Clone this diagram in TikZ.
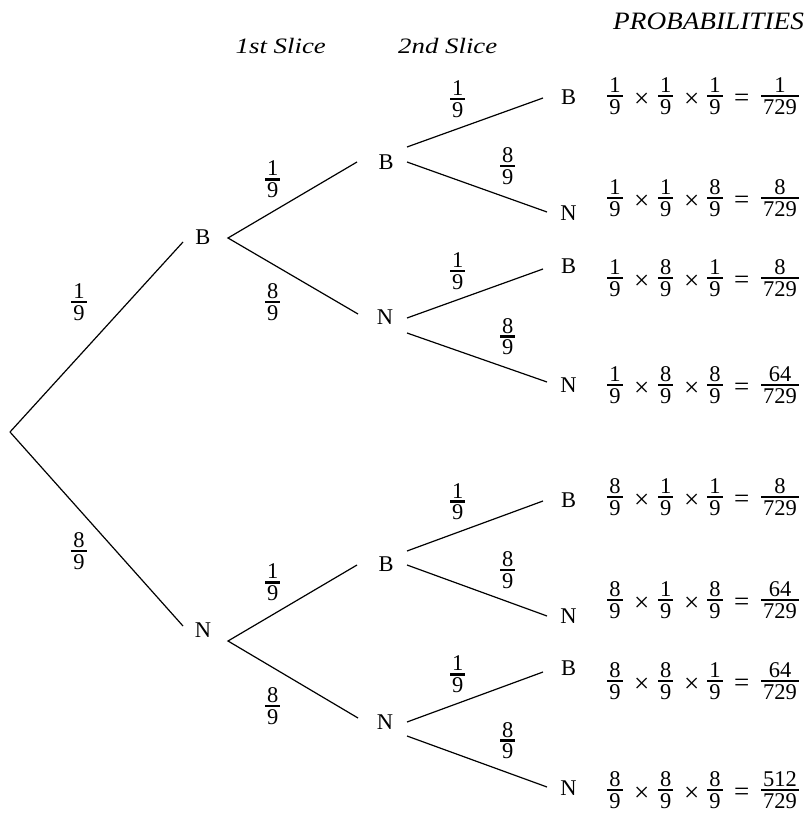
\documentclass[tikz,border=0pt]{standalone}
\usepackage{fontspec}
\setmainfont{Liberation Serif}
\newfontfamily\slicefont{Liberation Serif}[FakeStretch=1.22]
\newfontfamily\probfont{Liberation Serif}[FakeStretch=1.09]
\newcommand{\fr}[2]{\vbox{\offinterlineskip\halign{\kern2pt\hfil##\hfil\kern2pt\cr
  \vrule height14.9pt depth0pt width0pt\relax#1\cr
  \noalign{\kern2pt\hrule height2.7pt\kern2pt}
  \vrule height14.9pt depth0pt width0pt\relax#2\cr}}}
\tikzset{
  letter/.style={inner sep=0pt},
  frn/.style={inner sep=0pt},
  op/.style={inner sep=0pt, font=\fontsize{27}{30}\selectfont},
  branch/.style={line width=1.2pt, black},
  slicelabel/.style={inner sep=0pt, anchor=base west, font=\fontsize{22}{26}\slicefont\itshape},
}
\begin{document}
\begin{tikzpicture}[x=1pt, y=-1pt, font=\fontsize{22.5}{26}\selectfont]
\useasboundingbox (0,0) rectangle (805,818);
% headings
\node[slicelabel] (h1) at (235.5,54) {1st Slice};
\node[slicelabel] (h2) at (398,54) {2nd Slice};
\node[slicelabel, font=\fontsize{25}{28}\probfont\itshape] (h3) at (613,30) {PROBABILITIES};
% tree nodes
\coordinate (root) at (10,432);
\node[letter] (B1) at (203,237) {B};
\node[letter] (N1) at (203,630) {N};
\node[letter] (B2a) at (386,162) {B};
\node[letter] (N2a) at (385,317) {N};
\node[letter] (B2b) at (386,564) {B};
\node[letter] (N2b) at (385,722) {N};
\node[letter] (B3a) at (568.5,97) {B};
\node[letter] (N3a) at (568.5,213) {N};
\node[letter] (B3b) at (568.5,266) {B};
\node[letter] (N3b) at (568.5,385) {N};
\node[letter] (B3c) at (568.5,500) {B};
\node[letter] (N3c) at (568.5,616) {N};
\node[letter] (B3d) at (568.5,668) {B};
\node[letter] (N3d) at (568.5,788) {N};
% branches
\draw[branch] (root) -- ([shift={(-20,5)}]B1.center);
\draw[branch] (root) -- ([shift={(-20,-4)}]N1.center);
\draw[branch] ([shift={(-29,0)}]B2a.center) -- ([shift={(25,1)}]B1.center) -- ([shift={(-27,-3)}]N2a.center);
\draw[branch] ([shift={(-29,1)}]B2b.center) -- ([shift={(25,11)}]N1.center) -- ([shift={(-27,-4)}]N2b.center);
\draw[branch] ([shift={(21,-15)}]B2a.center) -- ([shift={(-25.5,1)}]B3a.center);
\draw[branch] ([shift={(21,0)}]B2a.center) -- ([shift={(-21.5,-1)}]N3a.center);
\draw[branch] ([shift={(22,1)}]N2a.center) -- ([shift={(-25.5,3)}]B3b.center);
\draw[branch] ([shift={(22,16)}]N2a.center) -- ([shift={(-21.5,-3)}]N3b.center);
\draw[branch] ([shift={(21,-13)}]B2b.center) -- ([shift={(-25.5,1)}]B3c.center);
\draw[branch] ([shift={(21,1)}]B2b.center) -- ([shift={(-21.5,0)}]N3c.center);
\draw[branch] ([shift={(22,0)}]N2b.center) -- ([shift={(-25.5,4)}]B3d.center);
\draw[branch] ([shift={(22,14)}]N2b.center) -- ([shift={(-21.5,-1)}]N3d.center);
% branch probabilities
\node[frn] (f0b) at (79,302) {\fr{1}{9}};
\node[frn] (f0n) at (79,551) {\fr{8}{9}};
\node[frn] (f1bb) at (272.7,179.3) {\fr{1}{9}};
\node[frn] (f1bn) at (272.7,302) {\fr{8}{9}};
\node[frn] (f1nb) at (272.7,582.3) {\fr{1}{9}};
\node[frn] (f1nn) at (272.7,706) {\fr{8}{9}};
\node[frn] (f2a) at (457.7,99) {\fr{1}{9}};
\node[frn] (f2b) at (507.7,166) {\fr{8}{9}};
\node[frn] (f2c) at (457.7,271) {\fr{1}{9}};
\node[frn] (f2d) at (507.7,336.7) {\fr{8}{9}};
\node[frn] (f2e) at (457.7,501.7) {\fr{1}{9}};
\node[frn] (f2f) at (507.7,570) {\fr{8}{9}};
\node[frn] (f2g) at (457.7,674.3) {\fr{1}{9}};
\node[frn] (f2h) at (507.7,740.7) {\fr{8}{9}};
% probability products
\foreach \r/\y/\a/\b/\c/\n in {1/96/1/1/1/1, 2/198/1/1/8/8, 3/278/1/8/1/8, 4/385/1/8/8/64,
    5/497/8/1/1/8, 6/600/8/1/8/64, 7/681/8/8/1/64, 8/790/8/8/8/512} {
  \node[frn] (p\r-a) at (615,\y) {\fr{\a}{9}};
  \node[op] (p\r-x) at (641.7,\y+4) {×};
  \node[frn] (p\r-b) at (665.8,\y) {\fr{\b}{9}};
  \node[op] (p\r-y) at (691.7,\y+4) {×};
  \node[frn] (p\r-c) at (715,\y) {\fr{\c}{9}};
  \node[op] (p\r-e) at (741.7,\y+4) {=};
  \node[frn] (p\r-r) at (780,\y) {\fr{\n}{729}};
}
\end{tikzpicture}
\end{document}
